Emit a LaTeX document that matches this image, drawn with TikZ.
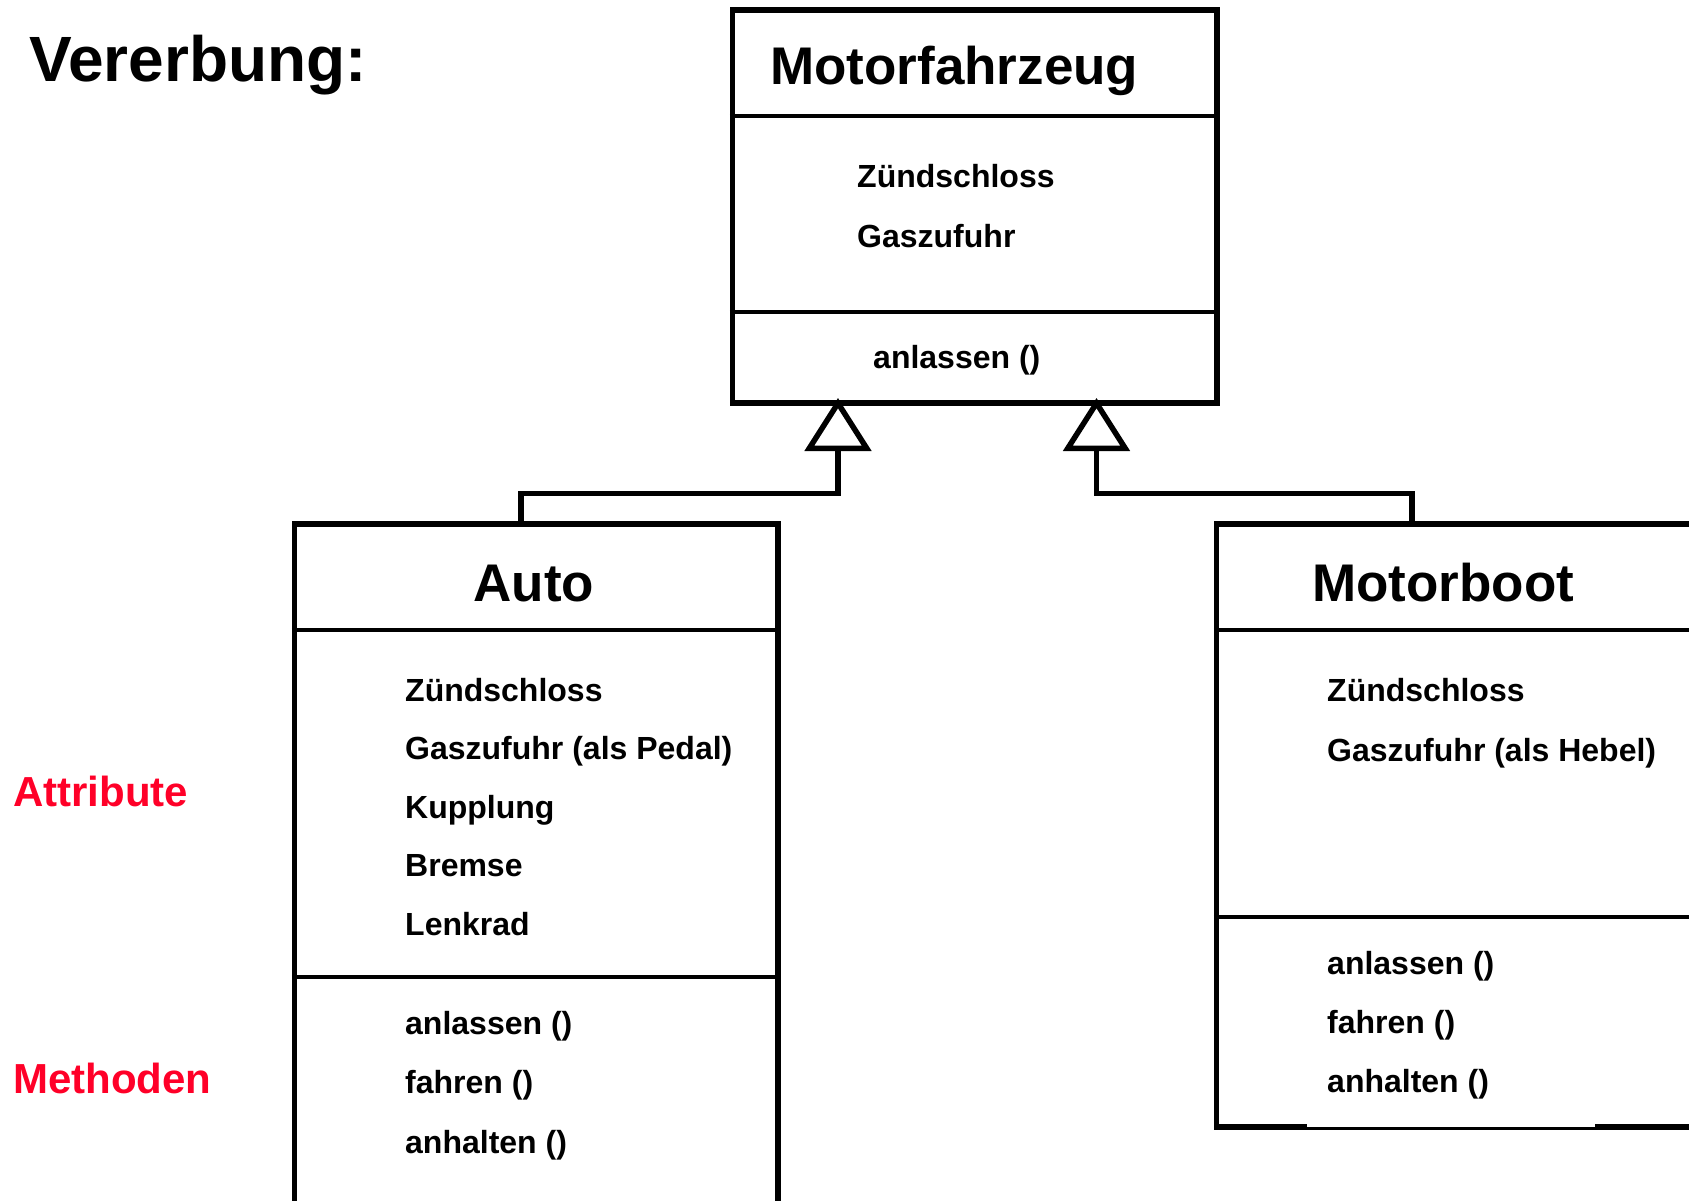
\documentclass[tikz,border=0pt]{standalone}
\usepackage{fontspec}
\setmainfont{Liberation Sans}
\usetikzlibrary{arrows.meta}

\definecolor{notered}{RGB}{255,0,40}

\begin{document}
\begin{tikzpicture}[x=1pt,y=-1pt,
    classbox/.style={draw,line width=5.5pt,inner sep=0pt},
    divider/.style={line width=4pt},
    member/.style={anchor=base west,inner sep=0pt,font=\fontsize{32}{38}\selectfont\bfseries},
    heading/.style={inner sep=0pt,font=\fontsize{53}{60}\selectfont\bfseries},
    note/.style={anchor=base west,inner sep=0pt,text=notered,font=\fontsize{42}{48}\selectfont\bfseries},
    inherit/.style={line width=5.5pt,-{Triangle[open,length=53pt,width=66pt]}}]
    \path[use as bounding box,fill=white] (0,0) rectangle (1689,1200);

    % title
    \node[anchor=base west,inner sep=0pt,font=\fontsize{64}{70}\selectfont\bfseries] (title) at (29,81) {Vererbung:};

    % superclass
    \node[classbox,minimum width=484.5pt,minimum height=393pt] (mfz) at (974.75,206.5) {};
    \draw[divider] (mfz.west |- 0,115.5) -- (mfz.east |- 0,115.5);
    \draw[divider] (mfz.west |- 0,312) -- (mfz.east |- 0,312);
    \node[heading,anchor=base west] (mfzname) at (770,84) {Motorfahrzeug};
    \node[member] (mfzattr1) at (857,187.5) {Zündschloss};
    \node[member] (mfzattr2) at (857,247.5) {Gaszufuhr};
    \node[member] (mfzop1) at (873,368.5) {anlassen ()};

    % subclass Auto
    \node[classbox,minimum width=483.5pt,minimum height=736pt] (auto) at (536.25,892) {};
    \draw[divider] (auto.west |- 0,629.5) -- (auto.east |- 0,629.5);
    \draw[divider] (auto.west |- 0,977) -- (auto.east |- 0,977);
    \node[heading,anchor=base] (autoname) at (534,601) {Auto};
    \foreach \txt [count=\i] in {Zündschloss,Gaszufuhr (als Pedal),Kupplung,Bremse,Lenkrad}
        \node[member] (autoattr\i) at (405,{701+(\i-1)*58.5}) {\txt};
    \foreach \txt [count=\i] in {anlassen (),fahren (),anhalten ()}
        \node[member] (autoop\i) at (405,{1034+(\i-1)*59.5}) {\txt};

    % subclass Motorboot
    \node[classbox,minimum width=483.5pt,minimum height=603pt] (boot) at (1458.25,825.5) {};
    \draw[divider] (boot.west |- 0,629.5) -- (boot.east |- 0,629.5);
    \draw[divider] (boot.west |- 0,917) -- (boot.east |- 0,917);
    \node[heading,anchor=base west] (bootname) at (1312,601) {Motorboot};
    \foreach \txt [count=\i] in {Zündschloss,Gaszufuhr (als Hebel)}
        \node[member] (bootattr\i) at (1327,{701+(\i-1)*60.5}) {\txt};
    \foreach \txt [count=\i] in {anlassen (),fahren (),anhalten ()}
        \node[member] (bootop\i) at (1327,{974+(\i-1)*59}) {\txt};
    % thinner piece of the bottom edge
    \coordinate (gapl) at (1307,1128.3);
    \coordinate (gapr) at (1595,1128.3);
    \fill[white] (1307,1124) rectangle (1595,1132);
    \draw[line width=3pt] (gapl) -- (gapr);

    % inheritance
    \coordinate (autostem) at (521,524);
    \coordinate (autobend) at (521,493.5);
    \coordinate (tipauto) at (838,398);
    \coordinate (bootstem) at (1412,524);
    \coordinate (bootbend) at (1412,493.5);
    \coordinate (tipboot) at (1096.5,398);
    \draw[inherit] (autostem) -- (autobend) -| (tipauto);
    \draw[inherit] (bootstem) -- (bootbend) -| (tipboot);

    % side labels
    \node[note] (attrlabel) at (13,806) {Attribute};
    \node[note] (oplabel) at (13,1093) {Methoden};
\end{tikzpicture}
\end{document}
